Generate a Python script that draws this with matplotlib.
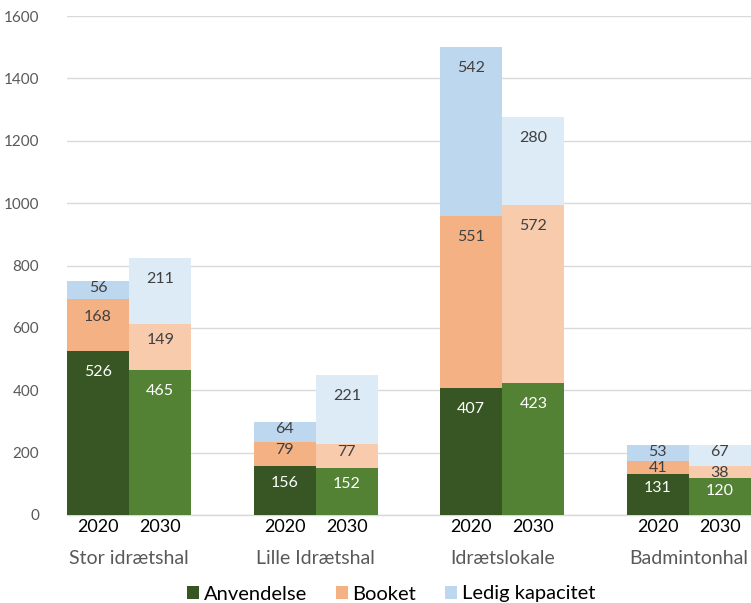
import matplotlib
matplotlib.use("Agg")
import matplotlib.pyplot as plt
from matplotlib.patches import Patch
from matplotlib.transforms import blended_transform_factory, offset_copy

plt.rcParams['font.family'] = ['Lato', 'DejaVu Sans']

groups = ["Stor idrætshal", "Lille Idrætshal", "Idrætslokale", "Badmintonhal"]
years = ["2020", "2030"]
series = ["Anvendelse", "Booket", "Ledig kapacitet"]
anvendelse = [526, 465, 156, 152, 407, 423, 131, 120]
booket = [168, 149, 79, 77, 551, 572, 41, 38]
ledig = [56, 211, 64, 221, 542, 280, 53, 67]

colors_2020 = ["#375623", "#F4B183", "#BDD7EE"]
colors_2030 = ["#548235", "#F8CBAD", "#DDEBF7"]
label_colors = ["white", "#404040", "#404040"]

DPI = 100
fig = plt.figure(figsize=(7.51, 6.03), dpi=DPI)
ax = fig.add_axes([67/751, 1 - 515/603, 1 - 67/751, (515 - 16)/603])
ax.set_ylim(0, 1600)
ax.set_xlim(-0.5, 10.5)

positions = []
for g in range(len(groups)):
    positions += [3*g, 3*g + 1]

# pixels per data unit (for "inside end" label placement)
px_per_unit = ax.get_position().height * fig.get_figheight() * DPI / 1600.0

data = [anvendelse, booket, ledig]
for i, x in enumerate(positions):
    cols = colors_2020 if i % 2 == 0 else colors_2030
    bottom = 0
    for s, vals in enumerate(data):
        v = vals[i]
        ax.bar(x, v, width=1.0, bottom=bottom, color=cols[s], edgecolor='none', zorder=3)
        h_px = v * px_per_unit
        off_px = min(21.0, max(7.0, h_px * 0.35))
        tr = offset_copy(ax.transData, fig=fig, x=0, y=-off_px * 72.0 / DPI, units='points')
        ax.text(x, bottom + v, str(v), ha='center', va='center',
                fontsize=11.5, color=label_colors[s], zorder=4, transform=tr)
        bottom += v

ax.set_yticks(range(0, 1601, 200))
ax.grid(axis='y', color='#D9D9D9', linewidth=1, zorder=0)
for sp in ['top', 'right', 'left']:
    ax.spines[sp].set_visible(False)
ax.spines['bottom'].set_color('#D9D9D9')
ax.spines['bottom'].set_linewidth(1)
ax.tick_params(axis='y', length=0, labelsize=11, labelcolor='#595959', pad=20)
ax.set_xticks(positions)
ax.set_xticklabels([years[i % 2] for i in range(len(positions))])
ax.tick_params(axis='x', length=0, labelsize=13, labelcolor='black', pad=3)

trans = blended_transform_factory(ax.transData, fig.transFigure)
for g, name in enumerate(groups):
    ax.text(3*g + 0.5, 1 - 559/603, name, ha='center', va='center',
            fontsize=14, color='#595959', transform=trans)

handles = [Patch(facecolor=c, edgecolor='none') for c in colors_2020]
fig.legend(handles, series, loc='center', bbox_to_anchor=(391/751, 1 - 594/603),
           ncol=3, frameon=False, fontsize=14.5, handlelength=0.6, handleheight=0.6,
           handletextpad=0.25, columnspacing=1.4, borderpad=0)

fig.savefig("out.png", dpi=DPI)
